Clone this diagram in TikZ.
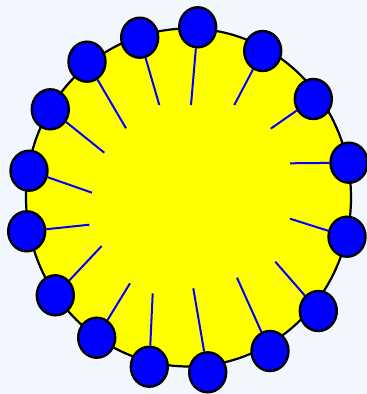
\documentclass[tikz,border=0pt]{standalone}
\usetikzlibrary{shapes.geometric}
\definecolor{bg}{RGB}{241,247,252}
\definecolor{sunfill}{RGB}{255,255,0}
\definecolor{dotblue}{RGB}{0,0,255}
\begin{document}
\begin{tikzpicture}[x=1pt,y=-1pt,
  sunbody/.style={ellipse,draw=black,line width=2.2pt,fill=sunfill,minimum width=325pt,minimum height=338pt,inner sep=0pt},
  dot/.style={ellipse,draw=black,line width=2.4pt,fill=dotblue,minimum width=37pt,minimum height=40pt,inner sep=0pt},
  ray/.style={draw=dotblue,line width=2pt}]
\fill[bg] (0,0) rectangle (367,394);
\useasboundingbox (0,0) rectangle (367,394);
\node[sunbody] (sun) at (188.5,197.5) {};
% inner ends of rays
\coordinate (c1) at (191,105);
\coordinate (c2) at (234.3,105);
\coordinate (c3) at (270.7,128.7);
\coordinate (c4) at (290,163.3);
\coordinate (c5) at (290,218.7);
\coordinate (c6) at (275.3,261.7);
\coordinate (c7) at (237,277.7);
\coordinate (c8) at (193.3,288.3);
\coordinate (c9) at (152.7,293.3);
\coordinate (c10) at (130,283.3);
\coordinate (c11) at (101.7,246);
\coordinate (c12) at (89.3,224.7);
\coordinate (c13) at (92,192.7);
\coordinate (c14) at (104.3,152.7);
\coordinate (c15) at (126,128.3);
\coordinate (c16) at (159.3,105);
% blue dots
\node[dot] (n1) at (197.7,27.3) {};
\node[dot] (n2) at (262.7,51) {};
\node[dot] (n3) at (313.3,99) {};
\node[dot] (n4) at (349,162.7) {};
\node[dot] (n5) at (347,236.7) {};
\node[dot] (n6) at (318.3,311) {};
\node[dot] (n7) at (270,351) {};
\node[dot] (n8) at (207.7,372.3) {};
\node[dot] (n9) at (149.3,366.7) {};
\node[dot] (n10) at (96.7,337.7) {};
\node[dot] (n11) at (55.3,295.3) {};
\node[dot] (n12) at (26.7,231.3) {};
\node[dot] (n13) at (29,170.7) {};
\node[dot] (n14) at (50.3,109.3) {};
\node[dot] (n15) at (87,61.7) {};
\node[dot] (n16) at (139.7,37.7) {};
\foreach \i in {1,...,16} {\draw[ray] (n\i) -- (c\i);}
\end{tikzpicture}
\end{document}
